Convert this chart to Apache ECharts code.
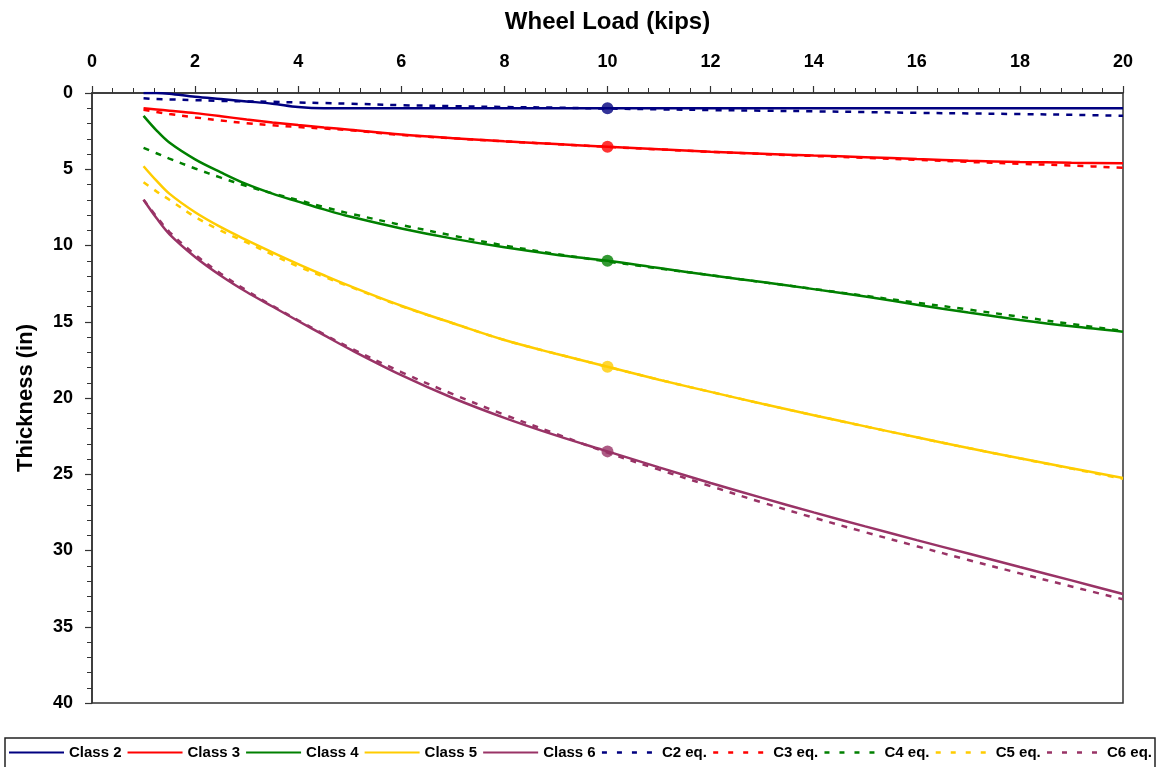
<!DOCTYPE html>
<html>
<head>
<meta charset="utf-8">
<script src="https://cdn.jsdelivr.net/npm/echarts@6/dist/echarts.min.js"></script>
<style>
  html, body { margin: 0; padding: 0; background: #ffffff; }
  #chart { width: 1161px; height: 767px; }
</style>
</head>
<body>
<div id="chart"></div>
<script>
// Wheel load (kips) at which each thickness was computed
const kips = [1, 1.25, 1.5, 2, 2.5, 3, 3.5, 4, 4.5, 5, 6, 7, 8, 9, 10, 11, 12, 13, 14, 15, 16, 17, 18, 19, 20];

// Required thickness (in) by subgrade class
const class2 = [0.0, 0.0, 0.05, 0.25, 0.4, 0.55, 0.7, 0.92, 1.0, 1.0, 1.0, 1.0, 1.0, 1.0, 1.0, 1.0, 1.0, 1.0, 1.0, 1.0, 1.0, 1.0, 1.0, 1.0, 1.0];
const class3 = [1.0, 1.08, 1.16, 1.32, 1.52, 1.74, 1.93, 2.1, 2.26, 2.41, 2.72, 2.96, 3.17, 3.35, 3.52, 3.69, 3.85, 3.98, 4.1, 4.21, 4.33, 4.44, 4.52, 4.57, 4.6];
const class4 = [1.5, 2.45, 3.25, 4.35, 5.2, 5.98, 6.6, 7.12, 7.63, 8.1, 8.88, 9.55, 10.12, 10.6, 11.0, 11.48, 11.95, 12.4, 12.86, 13.35, 13.88, 14.4, 14.88, 15.3, 15.65];
const class5 = [4.8, 5.75, 6.6, 7.82, 8.8, 9.65, 10.45, 11.22, 11.95, 12.65, 13.95, 15.1, 16.2, 17.1, 17.95, 18.8, 19.6, 20.38, 21.13, 21.86, 22.58, 23.28, 23.95, 24.6, 25.25];
const class6 = [7.0, 8.2, 9.25, 10.75, 11.98, 13.05, 14.0, 14.95, 15.88, 16.8, 18.5, 20.0, 21.3, 22.45, 23.5, 24.55, 25.57, 26.55, 27.5, 28.42, 29.32, 30.2, 31.08, 31.96, 32.85];

// Thickness from the fitted equations
const c2eq = [0.35, 0.4, 0.42, 0.47, 0.52, 0.55, 0.58, 0.62, 0.66, 0.7, 0.8, 0.86, 0.92, 0.96, 1.02, 1.07, 1.12, 1.16, 1.2, 1.25, 1.3, 1.34, 1.38, 1.43, 1.49];
const c3eq = [1.1, 1.25, 1.38, 1.6, 1.8, 1.98, 2.12, 2.23, 2.33, 2.44, 2.75, 2.97, 3.17, 3.35, 3.53, 3.7, 3.86, 4.0, 4.13, 4.25, 4.38, 4.52, 4.64, 4.76, 4.9];
const c4eq = [3.6, 3.95, 4.3, 4.95, 5.55, 6.1, 6.58, 7.02, 7.48, 7.9, 8.65, 9.35, 10.0, 10.55, 11.05, 11.5, 11.95, 12.4, 12.85, 13.3, 13.75, 14.2, 14.67, 15.15, 15.6];
const c5eq = [5.85, 6.45, 7.0, 8.12, 9.03, 9.8, 10.6, 11.38, 12.05, 12.7, 13.98, 15.1, 16.2, 17.1, 17.95, 18.8, 19.6, 20.38, 21.13, 21.86, 22.58, 23.28, 23.96, 24.63, 25.3];
const c6eq = [7.0, 8.1, 9.1, 10.6, 11.85, 12.95, 13.95, 14.9, 15.82, 16.7, 18.3, 19.75, 21.1, 22.35, 23.58, 24.7, 25.78, 26.85, 27.85, 28.8, 29.72, 30.62, 31.5, 32.36, 33.2];

// Highlighted design load
const markerLoad = 10;

const solidNames = ['Class 2', 'Class 3', 'Class 4', 'Class 5', 'Class 6'];
const eqNames = ['C2 eq.', 'C3 eq.', 'C4 eq.', 'C5 eq.', 'C6 eq.'];
const colors = ['#000080', '#ff0000', '#008000', '#ffcc00', '#993366'];
const solidData = [class2, class3, class4, class5, class6];
const eqData = [c2eq, c3eq, c4eq, c5eq, c6eq];

const FONT = '"Liberation Sans", Arial, sans-serif';

function pairs(ys) {
  return kips.map((x, i) => [x, ys[i]]);
}

const series = [];
solidData.forEach((ys, i) => {
  series.push({
    name: solidNames[i], type: 'line', data: pairs(ys),
    symbol: 'none', smooth: 0.35,
    lineStyle: { color: colors[i], width: 2.5 },
    itemStyle: { color: colors[i] }, z: 3
  });
});
eqData.forEach((ys, i) => {
  series.push({
    name: eqNames[i], type: 'line', data: pairs(ys),
    symbol: 'none', smooth: 0.35,
    lineStyle: { color: colors[i], width: 2.5, type: [6, 7] },
    itemStyle: { color: colors[i] }, z: 2
  });
});
// Dots on each class curve at the design load
const mi = kips.indexOf(markerLoad);
series.push({
  name: 'design load', type: 'scatter', symbol: 'circle', symbolSize: 12, z: 5,
  data: solidData.map((ys, i) => ({ value: [markerLoad, ys[mi]], itemStyle: { color: colors[i] } }))
});

// Legend entries: equation lines use a sparser dash in the key
const legendData = solidNames.map(n => ({ name: n }))
  .concat(eqNames.map(n => ({ name: n, lineStyle: { type: [5, 10], width: 2.5 } })));

const chart = echarts.init(document.getElementById('chart'), null, { renderer: 'canvas' });
chart.setOption({
  backgroundColor: '#ffffff',
  animation: false,
  textStyle: { fontFamily: FONT },
  grid: {
    left: 92, right: 38, top: 93, bottom: 64,
    show: true, borderColor: '#333333', borderWidth: 1.5, backgroundColor: '#ffffff'
  },
  xAxis: {
    type: 'value', position: 'top', min: 0, max: 20, interval: 2,
    name: 'Wheel Load (kips)', nameLocation: 'middle', nameGap: 59,
    nameTextStyle: { fontFamily: FONT, fontWeight: 'bold', fontSize: 24, color: '#000' },
    axisLine: { show: true, lineStyle: { color: '#333333', width: 1.5 } },
    axisTick: { show: true, length: 7, lineStyle: { color: '#333333', width: 1.2 } },
    minorTick: { show: true, splitNumber: 5, length: 5, lineStyle: { color: '#333333', width: 1 } },
    axisLabel: { fontFamily: FONT, fontWeight: 'bold', fontSize: 18, color: '#000', margin: 22 },
    splitLine: { show: false }
  },
  yAxis: {
    type: 'value', inverse: true, min: 0, max: 40, interval: 5,
    name: 'Thickness (in)', nameLocation: 'middle', nameGap: 55,
    nameTextStyle: { fontFamily: FONT, fontWeight: 'bold', fontSize: 22, color: '#000' },
    axisLine: { show: true, lineStyle: { color: '#333333', width: 1.5 } },
    axisTick: { show: true, length: 7, lineStyle: { color: '#333333', width: 1.2 } },
    minorTick: { show: true, splitNumber: 5, length: 5, lineStyle: { color: '#333333', width: 1 } },
    axisLabel: { fontFamily: FONT, fontWeight: 'bold', fontSize: 18, color: '#000', margin: 19 },
    splitLine: { show: false }
  },
  legend: {
    data: legendData,
    left: 8, top: 745, padding: 0,
    itemWidth: 55, itemHeight: 14, itemGap: 5,
    selectedMode: false,
    itemStyle: { opacity: 0, borderWidth: 0 },
    textStyle: { fontFamily: FONT, fontWeight: 'bold', fontSize: 15, color: '#000' }
  },
  graphic: [{
    type: 'rect', silent: true, z: -1,
    shape: { x: 5, y: 738, width: 1150, height: 40 },
    style: { fill: '#ffffff', stroke: '#222222', lineWidth: 1.5 }
  }],
  series: series
});
</script>
</body>
</html>
